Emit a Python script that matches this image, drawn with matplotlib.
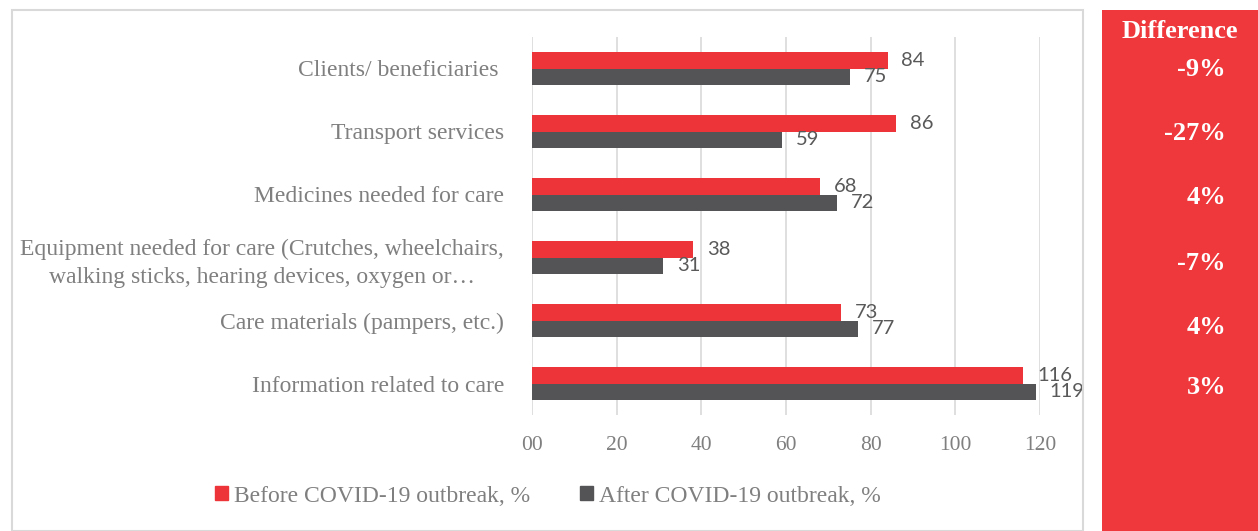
import matplotlib
matplotlib.use("Agg")
import matplotlib.pyplot as plt
from matplotlib.patches import Patch, Rectangle

# ====== 数据 ======
categories = [
    "Clients/ beneficiaries ",
    "Transport services",
    "Medicines needed for care",
    "Equipment needed for care (Crutches, wheelchairs,\nwalking sticks, hearing devices, oxygen or…",
    "Care materials (pampers, etc.)",
    "Information related to care",
]
before = [84, 86, 68, 38, 73, 116]
after = [75, 59, 72, 31, 77, 119]
diff_labels = ["-9%", "-27%", "4%", "-7%", "4%", "3%"]
xticks = [0, 20, 40, 60, 80, 100, 120]
xtick_labels = ["00", "20", "40", "60", "80", "100", "120"]

RED = "#EC3439"
DARK = "#545456"
GRID = "#D9D9D9"
TXT = "#7F7F7F"
SERIF = ["Liberation Serif", "DejaVu Serif"]
NUMF = ["Lato", "DejaVu Sans"]

W, H = 1258, 531
fig = plt.figure(figsize=(W / 100, H / 100), dpi=100)

# 外框 + 右侧红色面板
fig.patches.append(Rectangle((12 / W, 0), (1083 - 12) / W, 1 - 10 / H,
                             transform=fig.transFigure, fill=False,
                             edgecolor=GRID, linewidth=1.5))
fig.patches.append(Rectangle((1102 / W, 0), (W - 1102) / W, 1 - 10 / H,
                             transform=fig.transFigure, facecolor="#EE383C",
                             edgecolor="none"))

ax = fig.add_axes([532 / W, 1 - 415 / H, (1040 - 532) / W, (415 - 37) / H])

h = 0.26
y = list(range(len(categories)))
ax.barh([i - h / 2 for i in y], before, height=h, color=RED, label="Before COVID-19 outbreak, %")
ax.barh([i + h / 2 for i in y], after, height=h, color=DARK, label="After COVID-19 outbreak, %")

for i, (b, a) in enumerate(zip(before, after)):
    ax.annotate(str(b), (b, i - h / 2), xytext=(10, 0), textcoords="offset points",
                va="center", ha="left", fontsize=14.5, color="#595959", family=NUMF)
    ax.annotate(str(a), (a, i + h / 2), xytext=(10, 0), textcoords="offset points",
                va="center", ha="left", fontsize=14.5, color="#595959", family=NUMF)

ax.set_xlim(0, 120)
ax.set_ylim(len(categories) - 0.5, -0.5)
ax.set_xticks(xticks)
ax.set_xticklabels(xtick_labels, family=SERIF, fontsize=15.5, color=TXT)
ax.set_yticks(y)
ax.set_yticklabels(categories, family=SERIF, fontsize=17, color=TXT)
for t in ax.get_yticklabels():
    t.set_multialignment("center")
    t.set_linespacing(1.45)
ax.tick_params(axis="both", length=0)
ax.tick_params(axis="x", pad=15)
ax.tick_params(axis="y", pad=20)
ax.grid(True, axis="x", color=GRID, linewidth=1.2)
ax.set_axisbelow(True)
for s in ax.spines.values():
    s.set_visible(False)

handles = [Patch(color=RED, label="Before COVID-19 outbreak, %"),
           Patch(color=DARK, label="After COVID-19 outbreak, %")]
fig.legend(handles=handles, loc="center", bbox_to_anchor=(548 / W, 1 - 496 / H),
           ncol=2, frameon=False, handlelength=0.55, handleheight=0.55,
           handletextpad=0.25, columnspacing=2.1,
           prop={"family": SERIF, "size": 17}, labelcolor=TXT)

# 右侧 Difference 列
fig.text(1180 / W, 1 - 32 / H, "Difference", ha="center", va="center",
         color="white", fontsize=19, fontweight="bold", family=SERIF)
diff_y = [70, 133, 198, 263, 327, 388]
for lab, yy in zip(diff_labels, diff_y):
    fig.text(1226 / W, 1 - yy / H, lab, ha="right", va="center",
             color="white", fontsize=19, fontweight="bold", family=SERIF)

fig.savefig("out.png", dpi=100)
